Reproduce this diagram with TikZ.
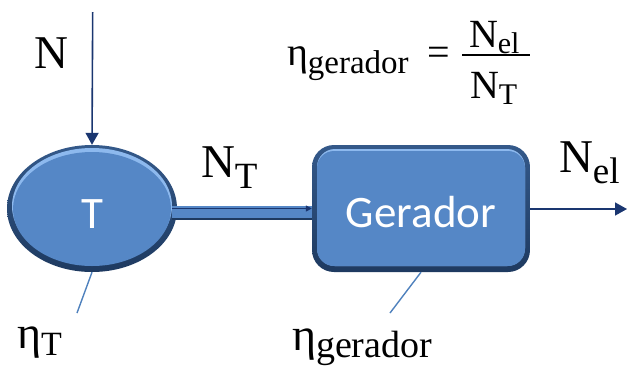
\documentclass[tikz,border=0pt]{standalone}
\usepackage{fontspec}
\setmainfont{Liberation Serif}
\newfontfamily\labelsans{Carlito}
\usetikzlibrary{arrows.meta,shapes.geometric}

% colours of the blocks and connectors
\definecolor{blockbody}{HTML}{5587C6}
\definecolor{blockrim}{HTML}{34598A}
\definecolor{blockdark}{HTML}{1E3A60}
\definecolor{blocklight}{HTML}{8DB9EE}
\definecolor{flowline}{HTML}{1A3670}
\definecolor{leader}{HTML}{4F81BD}

% symbol with a lowered subscript: main size, sub size, drop, main, sub
\newcommand\symsub[5]{{\fontsize{#1bp}{#1bp}\selectfont #4}\raisebox{-#3bp}{\fontsize{#2bp}{#2bp}\selectfont #5}}

\tikzset{
  lbl/.style={inner sep=0pt, outer sep=0pt, anchor=base west, text=black},
  blocktext/.style={inner sep=0pt, text=white, font=\labelsans\fontsize{45bp}{45bp}\selectfont},
  flow/.style={draw=flowline, line width=1.6bp, -{Triangle[length=12bp,width=13bp]}},
  leaderline/.style={draw=leader, line width=1.4bp},
}

\begin{document}
\begin{tikzpicture}[x=1bp, y=-1bp]
  \useasboundingbox (0,0) rectangle (627,370);

  % ---- turbine (ellipse with bevel) ----
  \shade[top color=blockrim, bottom color=blockdark] (92,208.5) ellipse [x radius=85, y radius=63.5];
  \fill[blocklight] (92,206) ellipse [x radius=80, y radius=58];
  \fill[blockbody] (92,209) ellipse [x radius=79, y radius=57];
  \node[ellipse, minimum width=170bp, minimum height=127bp, inner sep=0pt] (turb) at (92,208.5) {};
  \node[blocktext] at (92,214) {T};

  % ---- shaft between turbine and generator ----
  \fill[blockbody] (172,206) rectangle (314,220);
  \fill[blockdark] (172,218) rectangle (314,220);

  % ---- generator (rounded box with bevel) ----
  \shade[top color=blockrim, bottom color=blockdark, rounded corners=22bp] (312,145) rectangle (530,272);
  \fill[blocklight, rounded corners=18bp] (317,149) rectangle (525,266);
  \fill[blockbody, rounded corners=17bp] (317,151) rectangle (525,266);
  \node[rectangle, minimum width=218bp, minimum height=127bp, inner sep=0pt] (gen) at (421,208.5) {};
  \node[blocktext] at (421,212) {Gerador};

  % ---- power flows ----
  \coordinate (nin) at (92.7,12);
  \coordinate (shaftstart) at (172,208.5);
  \coordinate (nout) at (627,209);
  \draw[flow] (nin) -- (turb.north);
  \draw[flow, line width=1.4bp, -{Triangle[length=6bp,width=6bp]}] (shaftstart) -- (gen.west |- shaftstart);
  \draw[flow] (gen.east |- nout) -- (nout);

  % ---- efficiency leaders ----
  \coordinate (etaT) at (77,313);
  \coordinate (etaG) at (390,313);
  \draw[leaderline] (turb.south) -- (etaT);
  \draw[leaderline] (gen.south) -- (etaG);

  % ---- labels ----
  \node[lbl] (labN) at (34,68) {\fontsize{47bp}{47bp}\selectfont N};
  \node[lbl] (labNT) at (201,177) {\symsub{47}{37}{11}{N}{T}};
  \node[lbl] (labNel) at (559,172) {\symsub{47}{37}{11}{N}{el}};
  \node[lbl] (labetaT) at (17,348) {\symsub{46}{34}{7}{η}{T}};
  \node[lbl] (labetaG) at (292,350) {\symsub{46}{38}{7}{η}{gerador}};

  % ---- generator efficiency formula ----
  \node[lbl] (feta) at (287,65) {\symsub{40}{33}{8}{η}{gerador}};
  \node[lbl] (feq) at (427,65) {\fontsize{40bp}{40bp}\selectfont =};
  \node[lbl] (fnum) at (469,47) {\symsub{40}{30}{6}{N}{el}};
  \node[lbl] (fden) at (470,98) {\symsub{40}{30}{6}{N}{T}};
  \coordinate (barL) at (462,55);
  \coordinate (barR) at (530,55);
  \draw[line width=1.3bp] (barL) -- (barR);
\end{tikzpicture}
\end{document}
